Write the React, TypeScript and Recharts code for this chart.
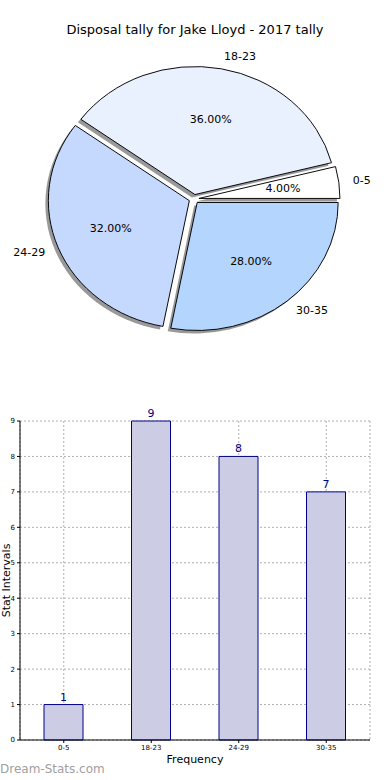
import React from 'react';
import { PieChart, Pie, Cell, BarChart, Bar, XAxis, YAxis, CartesianGrid, LabelList } from 'recharts';

const TITLE = 'Disposal tally for Jake Lloyd - 2017 tally';
const categories = ['0-5', '18-23', '24-29', '30-35'];
const counts = [1, 9, 8, 7];
const pieColors = ['#ffffff', '#eaf1fe', '#c5d8fe', '#b4d5fe'];
const yTicks = [0, 1, 2, 3, 4, 5, 6, 7, 8, 9];

const pieData = categories.map((c, i) => ({ name: c, value: counts[i] }));
const barData = categories.map((c, i) => ({ name: c, value: counts[i] }));

const FONT = '"DejaVu Sans", sans-serif';
const CX = 194;
const CY = 199;
const R = 141;
const K = 128 / 141; // vertical squash (ellipse)
const EXPLODE = 5;
const RAD = Math.PI / 180;

const total = counts.reduce((a, b) => a + b, 0);
const midAngles = (() => {
  let acc = 0;
  return counts.map((v) => {
    const s = (acc / total) * 360;
    acc += v;
    const e = (acc / total) * 360;
    return (s + e) / 2;
  });
})();

const renderLabel = (props: any) => {
  const { cx, cy, midAngle, outerRadius, percent, name } = props;
  const c = Math.cos(-midAngle * RAD);
  const s = Math.sin(-midAngle * RAD);
  const ro = outerRadius * 1.1 + EXPLODE;
  const rp = outerRadius * 0.6 + EXPLODE;
  const ox = cx + ro * c;
  const oy = cy + ro * s * K;
  const px = cx + rp * c;
  const py = cy + rp * s * K;
  return (
    <g>
      <text x={ox} y={oy} textAnchor={c >= 0 ? 'start' : 'end'} dominantBaseline="central" fontSize={11} fill="#000" fontFamily={FONT}>
        {name}
      </text>
      <text x={px} y={py} textAnchor="middle" dominantBaseline="central" fontSize={11} fill="#000" fontFamily={FONT}>
        {(percent * 100).toFixed(2) + '%'}
      </text>
    </g>
  );
};

export default function App() {
  return (
    <div style={{ position: 'absolute', left: 0, top: 0, width: 390, height: 780, background: '#fff', overflow: 'hidden', fontFamily: FONT }}>
      <div style={{ position: 'absolute', left: 0, top: 21, width: 390, textAlign: 'center', fontSize: 13, color: '#000', lineHeight: '18px' }}>
        {TITLE}
      </div>
      {/* sectors layer, squashed into an ellipse */}
      <div style={{ position: 'absolute', left: 0, top: 0, width: 390, height: 400, transform: `scaleY(${K})`, transformOrigin: `${CX}px ${CY}px` }}>
        <PieChart width={390} height={400} margin={{ top: 0, right: 0, bottom: 0, left: 0 }}>
          {categories.map((_, j) => (
            <Pie
              key={'sh' + j}
              data={pieData}
              dataKey="value"
              nameKey="name"
              cx={CX + EXPLODE * Math.cos(-midAngles[j] * RAD) - 3}
              cy={CY + EXPLODE * Math.sin(-midAngles[j] * RAD) + 3 / K}
              startAngle={0}
              endAngle={360}
              innerRadius={0}
              outerRadius={R}
              isAnimationActive={false}
              label={false}
              labelLine={false}
            >
              {categories.map((__, i) => (
                <Cell key={i} fill={i === j ? '#999999' : 'transparent'} stroke="none" />
              ))}
            </Pie>
          ))}
          {categories.map((_, j) => (
            <Pie
              key={'w' + j}
              data={pieData}
              dataKey="value"
              nameKey="name"
              cx={CX + EXPLODE * Math.cos(-midAngles[j] * RAD)}
              cy={CY + EXPLODE * Math.sin(-midAngles[j] * RAD)}
              startAngle={0}
              endAngle={360}
              innerRadius={0}
              outerRadius={R}
              isAnimationActive={false}
              label={false}
              labelLine={false}
            >
              {categories.map((__, i) => (
                <Cell key={i} fill={i === j ? pieColors[i] : 'transparent'} stroke={i === j ? '#000' : 'none'} strokeWidth={1} />
              ))}
            </Pie>
          ))}
        </PieChart>
      </div>
      {/* labels layer */}
      <div style={{ position: 'absolute', left: 0, top: 0, width: 390, height: 400 }}>
        <PieChart width={390} height={400} margin={{ top: 0, right: 0, bottom: 0, left: 0 }}>
          <Pie
            data={pieData}
            dataKey="value"
            nameKey="name"
            cx={CX}
            cy={CY}
            startAngle={0}
            endAngle={360}
            innerRadius={0}
            outerRadius={R}
            isAnimationActive={false}
            label={renderLabel}
            labelLine={false}
          >
            {categories.map((__, i) => (
              <Cell key={i} fill="transparent" stroke="none" />
            ))}
          </Pie>
        </PieChart>
      </div>
      {/* bar chart */}
      <div style={{ position: 'absolute', left: 0, top: 400, width: 390, height: 380 }}>
        <BarChart width={390} height={380} data={barData} margin={{ top: 21, right: 20, bottom: 0, left: 0 }} barCategoryGap={0}>
          <CartesianGrid stroke="#b0b0b0" strokeDasharray="2 2" />
          <XAxis
            dataKey="name"
            height={40}
            axisLine={{ stroke: '#000' }}
            tickLine={{ stroke: '#000' }}
            tickSize={3}
            tick={{ fontSize: 7, fill: '#000', fontFamily: FONT }}
            interval={0}
            label={{ value: 'Frequency', position: 'insideTop', offset: 15, fontSize: 11, fill: '#000', fontFamily: FONT }}
          />
          <XAxis xAxisId="top" orientation="top" dataKey="name" height={0} tick={false} tickLine={false} axisLine={{ stroke: '#000' }} />
          <YAxis
            width={20}
            domain={[0, 9]}
            ticks={yTicks}
            interval={0}
            axisLine={{ stroke: '#000' }}
            tickLine={{ stroke: '#000' }}
            tickSize={3}
            tick={{ fontSize: 7, fill: '#000', fontFamily: FONT }}
            label={{ value: 'Stat Intervals', angle: -90, position: 'insideLeft', offset: 6, fontSize: 11, fill: '#000', fontFamily: FONT, style: { textAnchor: 'middle' } }}
          />
          <YAxis yAxisId="right" orientation="right" width={0} domain={[0, 9]} tick={false} tickLine={false} axisLine={{ stroke: '#000' }} />
          <Bar dataKey="value" fill="#ccccE5" stroke="#00008b" strokeWidth={1} barSize={39} isAnimationActive={false}>
            <LabelList dataKey="value" position="top" offset={4} fill="#00008b" fontSize={11} fontFamily={FONT} />
          </Bar>
        </BarChart>
      </div>
      <div style={{ position: 'absolute', left: 0, top: 762, fontSize: 12, color: '#a0a0a0', fontFamily: FONT, lineHeight: '15px', whiteSpace: 'nowrap' }}>
        Dream-Stats.com
      </div>
    </div>
  );
}
